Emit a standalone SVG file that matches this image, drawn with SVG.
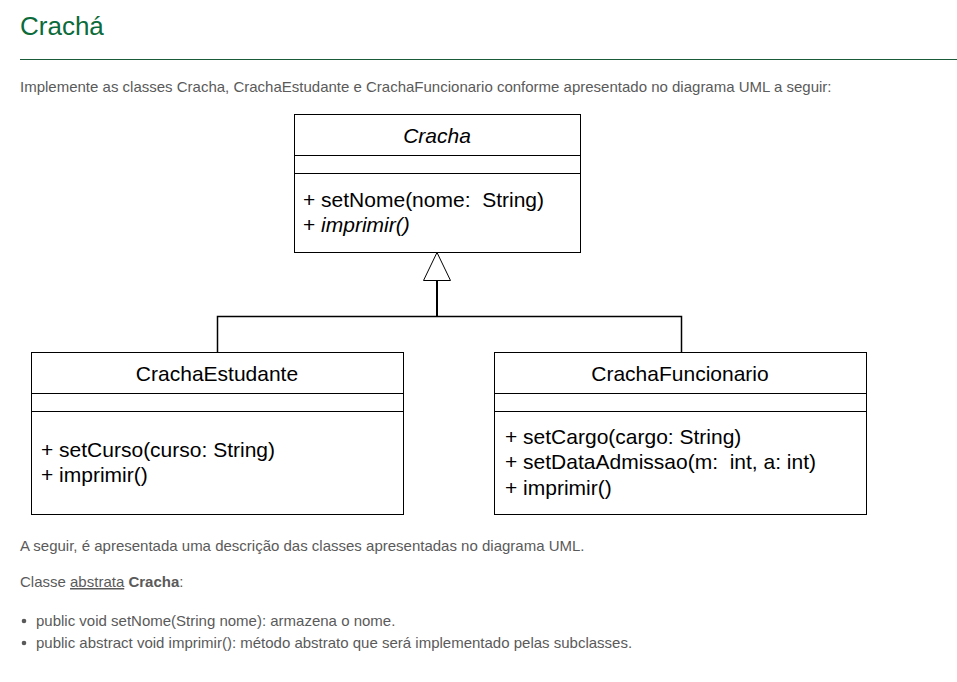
<svg xmlns="http://www.w3.org/2000/svg" width="957" height="682" viewBox="0 0 957 682">
<style>
.box{fill:#fff;stroke:#000;stroke-width:1}
.sep{stroke:#000;stroke-width:1}
.uml{font-family:"Liberation Sans",Arial,sans-serif;font-size:21px;fill:#000;white-space:pre}
.ttl{text-anchor:middle}
.it{font-style:italic}
.body{font-family:"Liberation Sans",Arial,sans-serif;font-size:15px;fill:#5a5a5a}
.conn{stroke:#000;fill:none}
</style>
<rect width="957" height="682" fill="#fff"/>
<text x="20" y="35" font-family="'Liberation Sans',Arial,sans-serif" font-size="26" fill="#0b6b3a">Crachá</text>
<line x1="20" y1="59.5" x2="957" y2="59.5" stroke="#1a5c3a" stroke-width="1"/>
<text class="body" x="20" y="92">Implemente as classes Cracha, CrachaEstudante e CrachaFuncionario conforme apresentado no diagrama UML a seguir:</text>

<g id="cracha">
<rect class="box" x="294.5" y="114.5" width="286" height="138"/>
<line class="sep" x1="294.5" y1="155.5" x2="580.5" y2="155.5"/>
<line class="sep" x1="294.5" y1="173.5" x2="580.5" y2="173.5"/>
<text class="uml ttl it" x="437" y="143">Cracha</text>
<text class="uml" x="303" y="207" xml:space="preserve">+ setNome(nome:  String)</text>
<text class="uml" x="303" y="232">+ <tspan class="it">imprimir()</tspan></text>
</g>

<g id="crachaEstudante">
<rect class="box" x="31.5" y="352.5" width="372" height="162"/>
<line class="sep" x1="31.5" y1="393.5" x2="403.5" y2="393.5"/>
<line class="sep" x1="31.5" y1="411.5" x2="403.5" y2="411.5"/>
<text class="uml ttl" x="217" y="381">CrachaEstudante</text>
<text class="uml" x="41" y="457">+ setCurso(curso: String)</text>
<text class="uml" x="41" y="482">+ imprimir()</text>
</g>

<g id="crachaFuncionario">
<rect class="box" x="494.5" y="352.5" width="372" height="162"/>
<line class="sep" x1="494.5" y1="393.5" x2="866.5" y2="393.5"/>
<line class="sep" x1="494.5" y1="411.5" x2="866.5" y2="411.5"/>
<text class="uml ttl" x="680" y="381">CrachaFuncionario</text>
<text class="uml" x="505" y="444">+ setCargo(cargo: String)</text>
<text class="uml" x="505" y="469" xml:space="preserve">+ setDataAdmissao(m:  int, a: int)</text>
<text class="uml" x="505" y="495">+ imprimir()</text>
</g>

<g id="connectors">
<polygon points="437,252.5 423.5,280.5 450.5,280.5" fill="#fff" stroke="#000" stroke-width="1"/>
<line class="conn" x1="437" y1="280.5" x2="437" y2="316" stroke-width="2"/>
<polyline class="conn" points="217.5,352 217.5,316.5 681.5,316.5 681.5,352" stroke-width="1.5"/>
</g>

<text class="body" x="20" y="551">A seguir, é apresentada uma descrição das classes apresentadas no diagrama UML.</text>
<text class="body" x="20" y="587">Classe <tspan text-decoration="underline">abstrata</tspan> <tspan font-weight="bold">Cracha</tspan>:</text>
<circle cx="24" cy="621" r="2.3" fill="#5a5a5a"/>
<text class="body" x="36" y="626">public void setNome(String nome): armazena o nome.</text>
<circle cx="24" cy="643" r="2.3" fill="#5a5a5a"/>
<text class="body" x="36" y="648">public abstract void imprimir(): método abstrato que será implementado pelas subclasses.</text>
</svg>
